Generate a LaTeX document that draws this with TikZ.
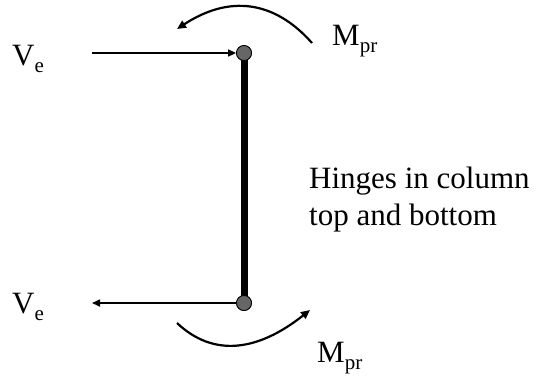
\documentclass[tikz,border=0pt]{standalone}
\usepackage{fontspec}
\setmainfont{Liberation Serif}
\usepackage{xcolor}
\definecolor{hingeFill}{HTML}{666666}
\usetikzlibrary{arrows.meta, positioning, calc}
\newcommand{\lowsub}[1]{\raisebox{-7pt}{\fontsize{21}{21}\selectfont #1}}
\tikzset{
    hinge/.style={circle, draw, fill=hingeFill, minimum size=15pt,
                  inner sep=0pt, line width=0.8pt},
    label/.style={anchor=base west, inner sep=0pt,
                  font=\fontsize{31}{37}\selectfont},
    force/.style={-{Triangle[length=8pt, width=7pt]}, line width=1.6pt},
    moment/.style={-{Triangle[length=9pt, width=8pt]}, line width=2.2pt},
    column/.style={line width=7pt},
}
\begin{document}
\begin{tikzpicture}[x=1pt, y=-1pt]
    \useasboundingbox (0,0) rectangle (537,376);
    % column and hinges
    \node[hinge] (top) at (244,53) {};
    \node[hinge] (bot) at (244,303) {};
    \draw[column] (top.center) -- (bot.center);
    \node[hinge] at (top) {};
    \node[hinge] at (bot) {};
    % shear forces
    \coordinate (vtail) at (92,53);
    \coordinate (vtip) at (92,303);
    \draw[force] (vtail) -- (top.west);
    \draw[force] (bot.west) -- (vtip);
    % moments
    \coordinate (mta) at (312,43);
    \coordinate (mtb) at (177,29);
    \coordinate (mba) at (177,323);
    \coordinate (mbb) at (310,310);
    \draw[moment] (mta) .. controls (274,0) and (229,-5) .. (mtb);
    \draw[moment] (mba) .. controls (213,357) and (257,352) .. (mbb);
    % labels
    \node[label] (vtop) at (12,65) {V\lowsub{e}};
    \node[label] (vbot) at (12,313) {V\lowsub{e}};
    \node[label] (mtop) at (332,45) {M\lowsub{pr}};
    \node[label] (mbot) at (317,362) {M\lowsub{pr}};
    \node[label, align=left] (note) at (309,225)
        {Hinges in column\\top and bottom};
\end{tikzpicture}
\end{document}
